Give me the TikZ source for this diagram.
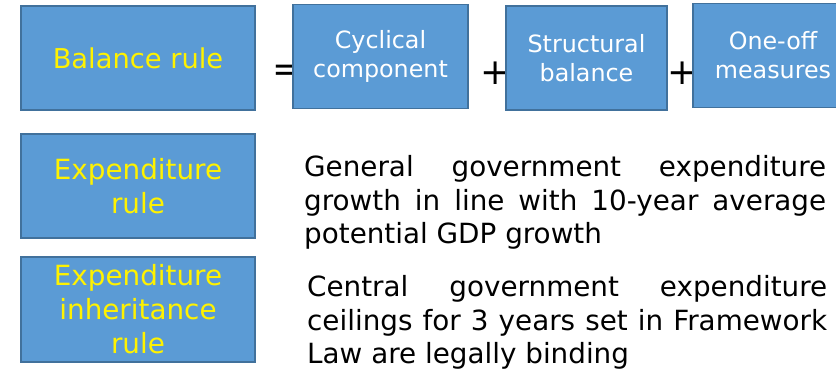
\documentclass[tikz,border=0pt]{standalone}
\usepackage{fontspec}
\setmainfont{DejaVu Sans}
\definecolor{boxblue}{HTML}{5B9BD5}
\definecolor{boxline}{HTML}{41719C}
\hyphenpenalty=10000
\tolerance=10000

\begin{document}
\begin{tikzpicture}
  [x=1pt, y=-1pt,
rule/.style={draw=boxline, line width=1.5pt, fill=boxblue, align=center, inner sep=0pt},
yellowrule/.style={rule, text=yellow, minimum width=234pt, font=\fontsize{27.8}{34}\selectfont},
part/.style={rule, text=white, minimum height=104pt, font=\fontsize{23.8}{29}\selectfont},
sign/.style={inner sep=0pt, font=\fontsize{36}{36}\selectfont},
desc/.style={anchor=base west, inner sep=0pt, align=justify, font=\fontsize{27.8}{33.5}\selectfont}]
  \clip (0,0) rectangle (836,374);
  % balance rule and its parts
  \node[yellowrule, minimum height=104pt, font=\fontsize{27.3}{32}\selectfont] (balance) at (138,58) {Balance rule};
  \node[sign] (equals) at (288,73) {=};
  \node[part, minimum width=175pt] (cyclical) at (380.5,56.5) {Cyclical\\component};
  \node[sign] (plus1) at (496,73) {+};
  \node[part, minimum width=161pt] (structural) at (586.5,58) {Structural\\balance};
  \node[sign] (plus2) at (682.5,73) {+};
  \node[part, minimum width=160pt] (oneoff) at (773,55.5) {One-off\\measures};
  % expenditure rules
  \node[yellowrule, minimum height=104pt] (exprule) at (138,186) {Expenditure\\rule};
  \node[desc, text width=522pt] (expdesc) at (304,177)
    {General government expenditure growth in line with 10-year average potential GDP growth};
  \node[yellowrule, minimum height=105pt] (inheritrule) at (138,309.5) {Expenditure\\inheritance\\rule};
  \node[desc, text width=520pt] (inheritdesc) at (307,297)
    {Central government expenditure ceilings for 3 years set in Framework Law are legally binding};
\end{tikzpicture}
\end{document}
